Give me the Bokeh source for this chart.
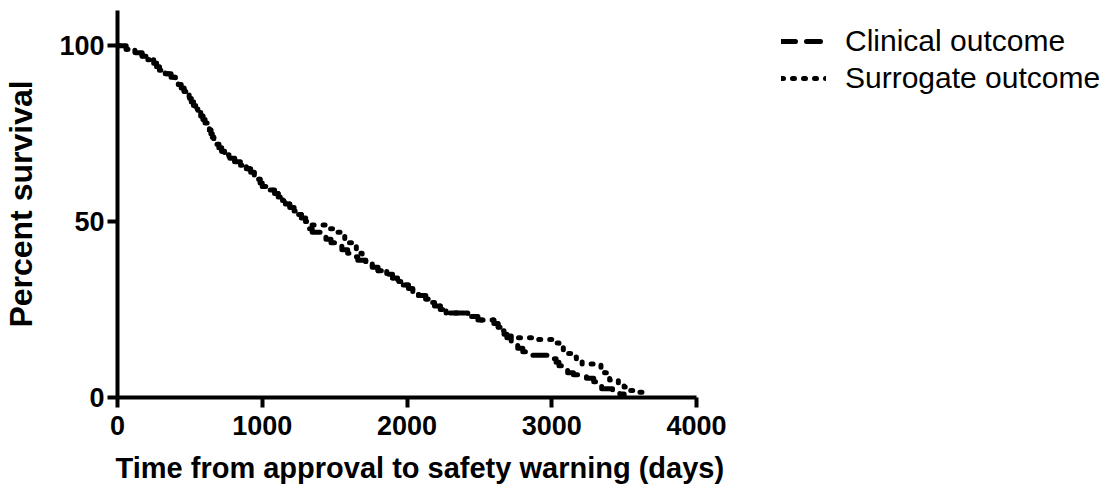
from bokeh.plotting import figure
from bokeh.models import Legend, LegendItem, FixedTicker, Title
from bokeh.embed import file_html
from bokeh.resources import INLINE

# Kaplan-Meier style step data
clinical_days = [0, 60, 120, 170, 210, 250, 270, 290, 330, 370, 400, 420, 440, 460, 480,
                 495, 510, 525, 540, 555, 575, 590, 605, 620, 635, 645, 655, 665, 680, 700,
                 720, 740, 770, 810, 850, 890, 920, 945, 960, 985, 1000, 1040, 1085, 1110,
                 1140, 1160, 1190, 1220, 1245, 1270, 1300, 1310, 1325, 1345, 1400, 1440,
                 1475, 1510, 1550, 1590, 1620, 1660, 1715, 1760, 1800, 1860, 1900, 1935,
                 1970, 2010, 2040, 2080, 2130, 2160, 2190, 2230, 2270, 2420, 2490, 2600,
                 2630, 2650, 2670, 2690, 2720, 2745, 2765, 2800, 2860, 2990, 3030, 3050,
                 3080, 3110, 3150, 3240, 3290, 3320, 3345, 3420, 3470, 3500]
clinical_pct = [100, 99, 98, 97, 96, 95, 94, 93, 92, 91, 90, 89, 88, 87, 86,
                85, 84, 83, 82, 81, 80, 79, 78, 77, 76, 75, 74, 73, 72, 71,
                70, 69, 68, 67, 66, 65, 64, 63, 62, 61, 60, 59, 58, 57,
                56, 55, 54, 53, 52, 51, 50, 49, 48, 47, 46, 45,
                44, 43, 42, 41, 40, 39, 38, 37, 36, 35, 34, 33,
                32, 31, 30, 29, 28, 27, 26, 25, 24, 23, 22, 21,
                20, 19, 18, 17, 16, 15, 14, 13, 12, 11, 10, 9,
                8, 7, 6.5, 5.5, 4.5, 3.5, 2.5, 2, 1, 0]

surrogate_days = [0, 60, 120, 170, 210, 250, 270, 290, 330, 370, 400, 420, 440, 460, 480,
                  495, 510, 525, 540, 555, 575, 590, 605, 620, 635, 645, 655, 665, 680, 700,
                  720, 740, 770, 810, 850, 890, 920, 945, 960, 985, 1000, 1040, 1085, 1110,
                  1140, 1160, 1190, 1220, 1245, 1270, 1300, 1330, 1470, 1500, 1540, 1570,
                  1600, 1630, 1650, 1670, 1690, 1700, 1715, 1760, 1800, 1860, 1900, 1935,
                  1970, 2010, 2040, 2080, 2130, 2160, 2190, 2230, 2270, 2420, 2490, 2600,
                  2630, 2650, 2670, 2700, 2760, 2880, 3020, 3050, 3080, 3110, 3140, 3170,
                  3210, 3340, 3365, 3385, 3400, 3460, 3500, 3525, 3600, 3625]
surrogate_pct = [100, 99, 98, 97, 96, 95, 94, 93, 92, 91, 90, 89, 88, 87, 86,
                 85, 84, 83, 82, 81, 80, 79, 78, 77, 76, 75, 74, 73, 72, 71,
                 70, 69, 68, 67, 66, 65, 64, 63, 62, 61, 60, 59, 58, 57,
                 56, 55, 54, 53, 52, 51, 50, 49, 48, 47, 46, 45,
                 44, 43, 42, 41, 40, 39, 38, 37, 36, 35, 34, 33,
                 32, 31, 30, 29, 28, 27, 26, 25, 24, 23, 22, 21,
                 20, 19, 18, 17.5, 17, 16.5, 15.5, 14.5, 13.5, 12.5, 11.5, 10.5,
                 9.5, 8.5, 7, 6, 5, 4, 3, 2, 1.5, 0]

x_ticks = [0, 1000, 2000, 3000, 4000]
y_ticks = [0, 50, 100]

FONT = "Liberation Sans"

AXIS_PX = 579          # pixel length of the 0..4000 axis
FRAME_W = 992          # frame extends to the right to hold the legend
x_end = 4000 * FRAME_W / AXIS_PX

p = figure(output_backend="svg", toolbar_location=None,
           x_range=(0, x_end), y_range=(0, 110),
           frame_width=FRAME_W, frame_height=387,
           min_border_left=112, min_border_top=10, min_border_right=0, min_border_bottom=4)
p.outline_line_color = None
p.grid.visible = False
p.background_fill_color = "white"
p.border_fill_color = "white"

r1 = p.step(clinical_days, clinical_pct, mode="after", line_color="black", line_width=5,
            line_dash="14 11", line_cap="round", line_join="round")
r2 = p.step(surrogate_days, surrogate_pct, mode="after", line_color="black", line_width=5,
            line_dash="2 9", line_cap="round", line_join="round")

for ax in (p.xaxis[0], p.yaxis[0]):
    ax.axis_line_width = 4
    ax.axis_line_color = "black"
    ax.major_tick_line_width = 4
    ax.major_tick_line_color = "black"
    ax.major_tick_out = 10
    ax.major_tick_in = 0
    ax.minor_tick_line_color = None
    ax.major_label_text_font = FONT
    ax.major_label_text_font_style = "bold"
    ax.major_label_text_font_size = "27px"
    ax.major_label_text_color = "black"
    ax.axis_label_text_font = FONT
    ax.axis_label_text_font_style = "bold"
    ax.axis_label_text_color = "black"

p.xaxis.bounds = (0, 4000)
p.xaxis.ticker = FixedTicker(ticks=x_ticks)
p.yaxis.ticker = FixedTicker(ticks=y_ticks)
p.yaxis.axis_label = "Percent survival"
p.yaxis.axis_label_text_font_size = "32px"
p.xaxis.major_label_standoff = 8
p.yaxis.major_label_standoff = 3
p.yaxis.axis_label_standoff = 17

xtitle = Title(text="Time from approval to safety warning (days)", align="left", offset=-2,
               text_font=FONT, text_font_style="bold", text_font_size="29px",
               text_color="black", standoff=25)
p.add_layout(xtitle, "below")

legend = Legend(items=[LegendItem(label="Clinical outcome", renderers=[r1]),
                       LegendItem(label="Surrogate outcome", renderers=[r2])],
                location=(664, 302), border_line_color=None, background_fill_alpha=0,
                padding=0, margin=0, spacing=3, glyph_width=45, glyph_height=30,
                label_height=30, label_standoff=19,
                label_text_font=FONT, label_text_font_size="30px", label_text_color="black")
p.add_layout(legend, "center")

open("out.html", "w").write(file_html(p, INLINE))
